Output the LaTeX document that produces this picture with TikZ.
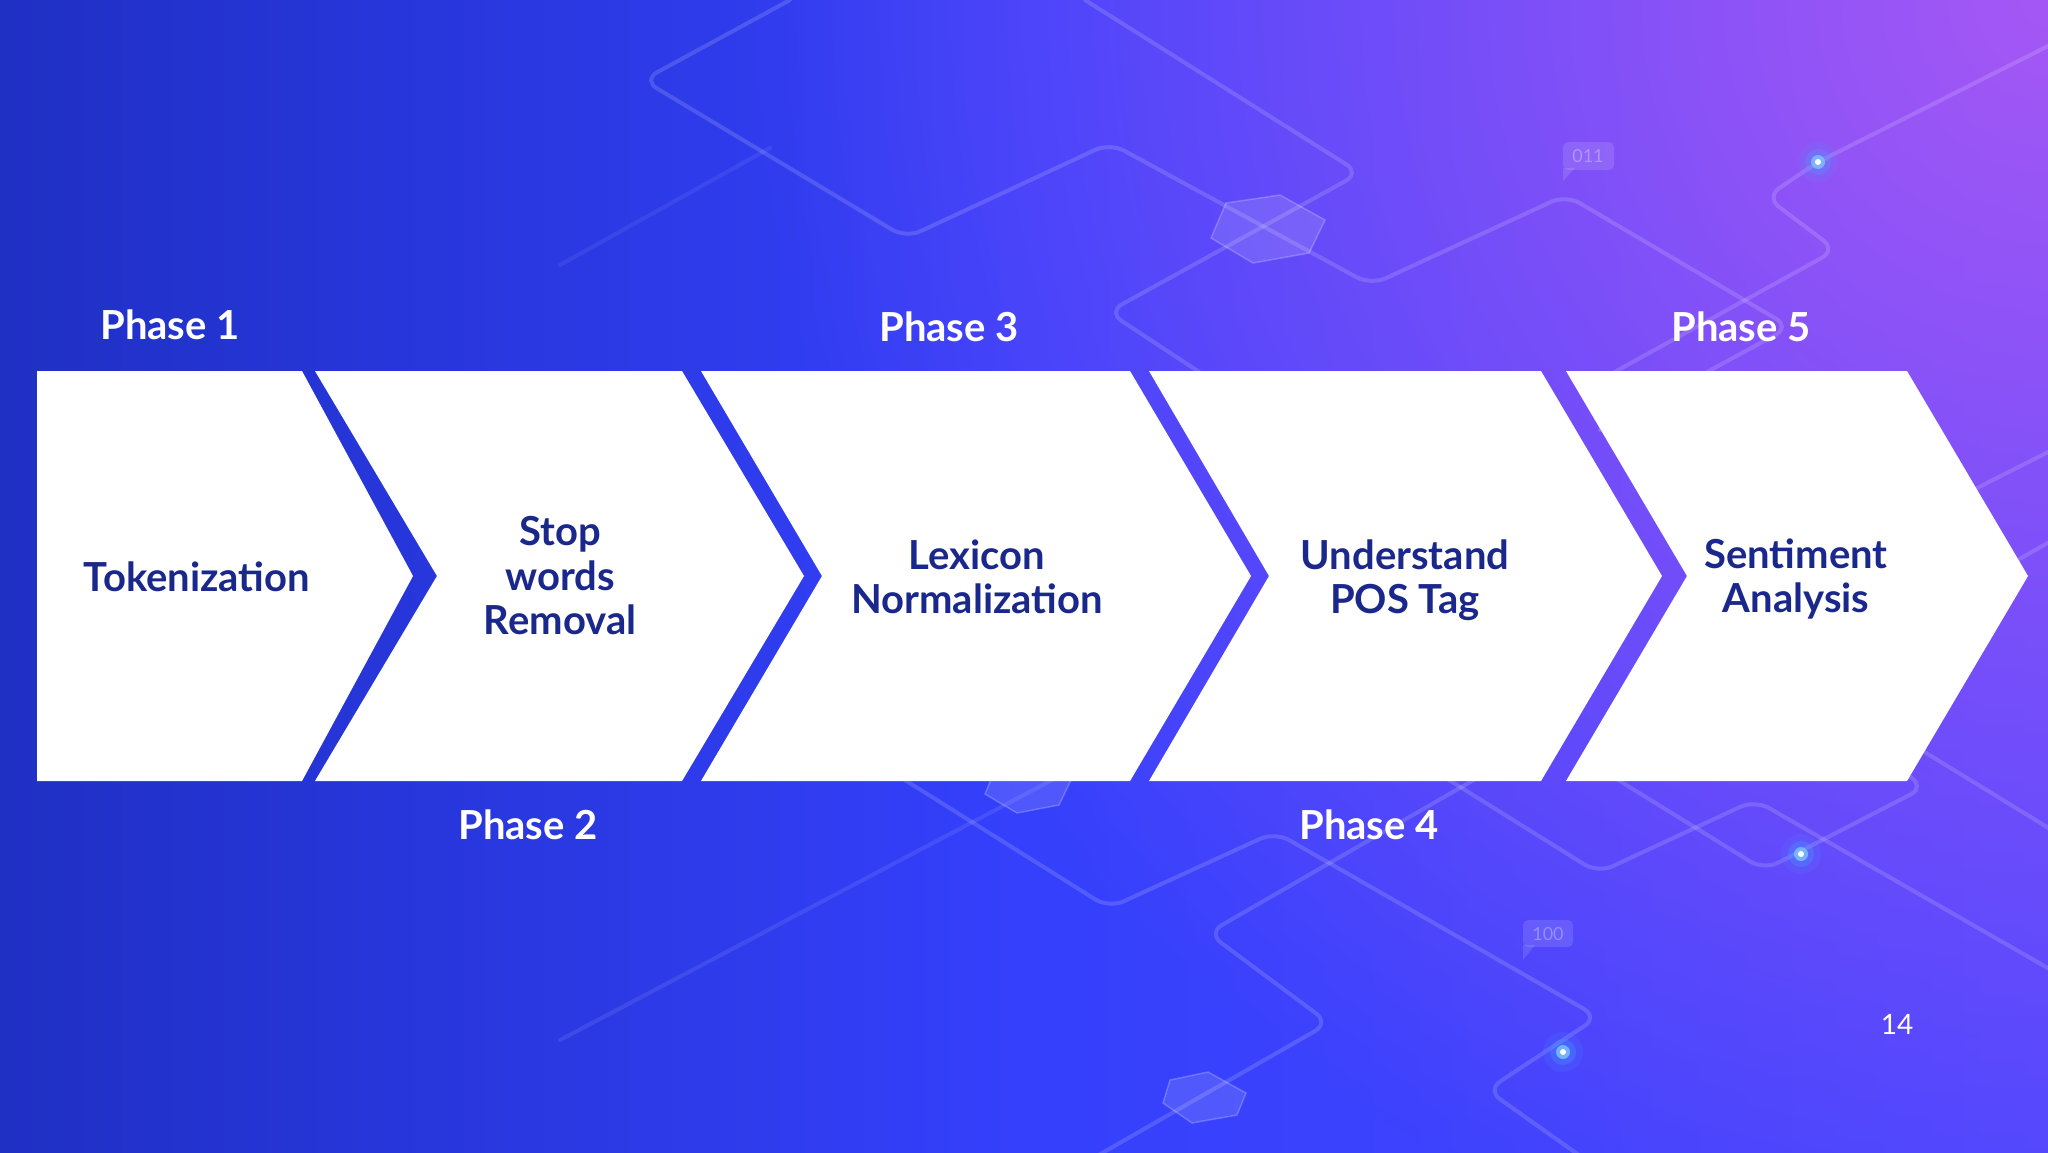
\documentclass[tikz,border=0pt]{standalone}
\usepackage{fontspec}
\setmainfont{Lato}
\usetikzlibrary{fadings}
\definecolor{bgL}{RGB}{31,48,196}
\definecolor{bgM}{RGB}{52,64,252}
\definecolor{bgR}{RGB}{74,70,255}
\definecolor{bgP}{RGB}{165,88,245}
\definecolor{navy}{RGB}{26,40,140}
\definecolor{glow}{RGB}{70,170,255}
\tikzfading[name=cornerfade, inner color=transparent!0, outer color=transparent!100]
\tikzset{
  deco/.style={draw=white, draw opacity=0.15, line width=4pt, rounded corners=16pt, line cap=round},
  chev/.style={fill=white},
  lbl/.style={text=navy, font=\fontsize{40}{44.5}\selectfont\bfseries, align=center},
  phase/.style={text=white, font=\fontsize{40}{44}\selectfont\bfseries, anchor=base},
  hexa/.style={fill=white, fill opacity=0.13, draw=white, draw opacity=0.22, line width=1.5pt},
  bubble/.style={fill=white, fill opacity=0.12, rounded corners=5pt},
  bubtxt/.style={text=white, text opacity=0.3, font=\fontsize{18}{18}\selectfont},
}
\newcommand{\glowdot}[2]{%
  \fill[glow, opacity=0.10] (#1,#2) circle (20);
  \fill[glow, opacity=0.25] (#1,#2) circle (13);
  \fill[glow!70!white, opacity=0.8] (#1,#2) circle (7);
  \fill[white] (#1,#2) circle (3);}
\begin{document}
\begin{tikzpicture}[x=1pt,y=-1pt]
\useasboundingbox (0,0) rectangle (2048,1152);
% background
\shade[left color=bgL, right color=bgR, middle color=bgM] (0,0) rectangle (2048,1152);
\begin{scope}
  \clip (0,0) rectangle (2048,1152);
  \fill[bgP, path fading=cornerfade] (2048,0) circle (1300);
  % decorative lines
  \draw[deco] (790,0) -- (643,80) -- (906,238) -- (1110,143) -- (1371,285) -- (1566,195) -- (1790,327) -- (1600,430);
  \draw[deco] (1085,0) -- (1360,173) -- (1108,312) -- (1260,412);
  \draw[deco] (2060,40) -- (1818,162) -- (1766,197) -- (1836,250) -- (1600,380);
  \draw[deco, draw opacity=0.07] (560,265) -- (770,148);
  \draw[deco] (2060,446) -- (1977,488) -- (1900,530);
  \draw[deco] (2060,536) -- (2000,570);
  \draw[deco, draw opacity=0.09] (1071,770) -- (560,1040);
  \draw[deco] (889,770) -- (1109,908) -- (1275,832) -- (1598,1017) -- (1487,1090) -- (1600,1170);
  \draw[deco] (1491,770) -- (1208,933) -- (1329,1023) -- (1090,1160);
  \draw[deco] (1433,770) -- (1598,873) -- (1755,800) -- (2060,975);
  \draw[deco] (1602,770) -- (1764,870) -- (1925,787) -- (1900,770);
  \draw[deco] (1900,737) -- (2060,835);
  % hexagons
  \path[hexa] (1211,238) -- (1226,203) -- (1280,195) -- (1325,220) -- (1309,253) -- (1253,263) -- cycle;
  \path[hexa] (985,794) -- (996,767) -- (1037,761) -- (1071,780) -- (1059,805) -- (1017,813) -- cycle;
  \path[hexa] (1163,1103) -- (1170,1080) -- (1208,1072) -- (1246,1093) -- (1237,1115) -- (1192,1123) -- cycle;
  % bubbles
  \path[bubble] (1563,142) rectangle (1614,170);
  \fill[white, fill opacity=0.12] (1563,168) -- (1575,168) -- (1563,181) -- cycle;
  \node[bubtxt] (b011) at (1588,156) {011};
  \path[bubble] (1523,920) rectangle (1573,947);
  \fill[white, fill opacity=0.12] (1523,945) -- (1535,945) -- (1523,960) -- cycle;
  \node[bubtxt] (b100) at (1548,934) {100};
  % glowing dots
  \glowdot{1818}{162}
  \glowdot{1801}{854}
  \glowdot{1563}{1052}
\end{scope}
% chevrons
\fill[chev] (37,371) -- (302,371) -- (413,576) -- (302,781) -- (37,781) -- cycle;
\fill[chev] (315,371) -- (682,371) -- (804,576) -- (682,781) -- (315,781) -- (437,576) -- cycle;
\fill[chev] (701,371) -- (1130,371) -- (1251,576) -- (1130,781) -- (701,781) -- (822,576) -- cycle;
\fill[chev] (1149,371) -- (1541,371) -- (1662,576) -- (1541,781) -- (1149,781) -- (1269,576) -- cycle;
\fill[chev] (1566,371) -- (1907,371) -- (2028,576) -- (1907,781) -- (1566,781) -- (1687,576) -- cycle;
% labels in chevrons
\node[lbl] (t1) at (197,577) {Tokenization};
\node[lbl] (t2) at (560,576) {Stop\\words\\Removal};
\node[lbl] (t3) at (977,577) {Lexicon\\Normalization};
\node[lbl] (t4) at (1405,580) {Understand\\POS Tag};
\node[lbl] (t5) at (1796,579) {Sentiment\\Analysis};
% phase labels
\node[phase] (p1) at (170,339) {Phase 1};
\node[phase] (p3) at (949,341) {Phase 3};
\node[phase] (p5) at (1741,341) {Phase 5};
\node[phase] (p2) at (528,839) {Phase 2};
\node[phase] (p4) at (1369,839) {Phase 4};
% page number
\node[text=white, font=\fontsize{28}{28}\selectfont, anchor=base] (pg) at (1897,1034) {14};
\end{tikzpicture}
\end{document}
